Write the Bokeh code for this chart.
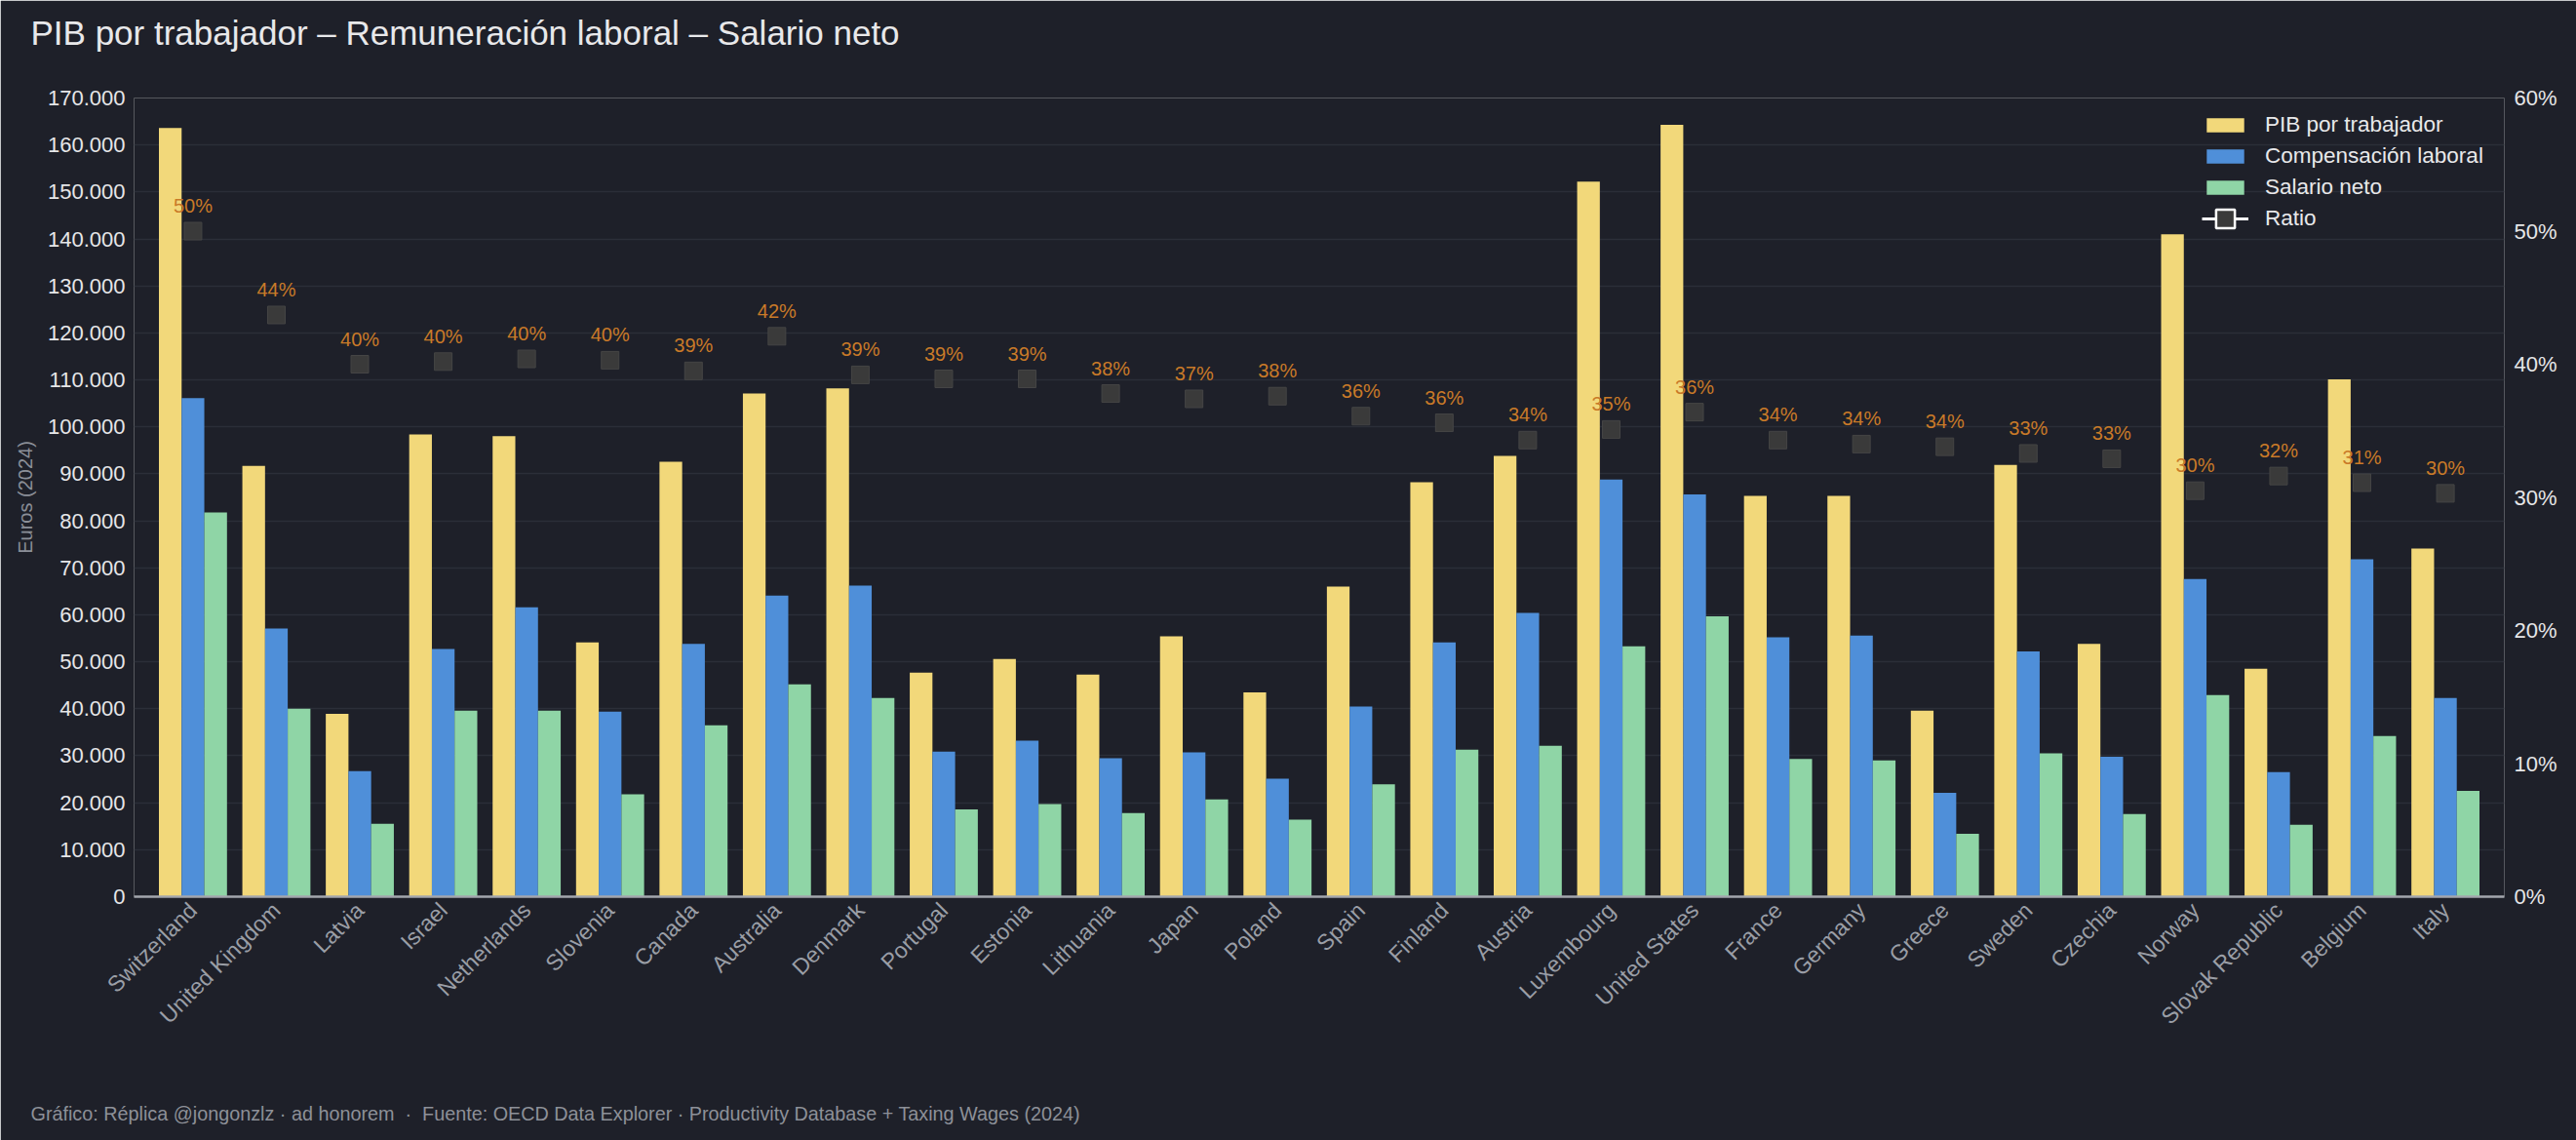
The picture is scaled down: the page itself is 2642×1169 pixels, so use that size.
import math
from bokeh.plotting import figure
from bokeh.models import (FactorRange, Range1d, LinearAxis, FixedTicker, Legend, LegendItem,
                          ColumnDataSource, Title)
from bokeh.transform import dodge
from bokeh.core.properties import value
from bokeh.embed import file_html
from bokeh.resources import INLINE

# ---------------- data ----------------
countries = ["Switzerland", "United Kingdom", "Latvia", "Israel", "Netherlands", "Slovenia",
             "Canada", "Australia", "Denmark", "Portugal", "Estonia", "Lithuania", "Japan",
             "Poland", "Spain", "Finland", "Austria", "Luxembourg", "United States", "France",
             "Germany", "Greece", "Sweden", "Czechia", "Norway", "Slovak Republic", "Belgium",
             "Italy"]
pib_por_trabajador = [163600, 91700, 38900, 98400, 98000, 54100, 92600, 107100, 108200, 47700,
                      50600, 47300, 55400, 43500, 66000, 88200, 93800, 152200, 164300, 85300,
                      85300, 39600, 91900, 53800, 141000, 48500, 110100, 74100]
compensacion_laboral = [106100, 57100, 26700, 52700, 61600, 39400, 53800, 64100, 66200, 30900,
                        33200, 29500, 30700, 25100, 40500, 54100, 60400, 88800, 85600, 55200,
                        55600, 22100, 52200, 29800, 67600, 26500, 71800, 42300]
salario_neto = [81800, 40000, 15500, 39600, 39600, 21800, 36500, 45200, 42300, 18600,
                19700, 17800, 20700, 16400, 23900, 31300, 32100, 53300, 59700, 29300,
                29000, 13400, 30500, 17600, 42900, 15300, 34200, 22500]
ratio = [0.500, 0.437, 0.400, 0.402, 0.404, 0.403, 0.395, 0.421, 0.392, 0.389,
         0.389, 0.378, 0.374, 0.376, 0.361, 0.356, 0.343, 0.351, 0.364, 0.343,
         0.340, 0.338, 0.333, 0.329, 0.305, 0.316, 0.311, 0.303]
ratio_labels = ["50%", "44%", "40%", "40%", "40%", "40%", "39%", "42%", "39%", "39%",
                "39%", "38%", "37%", "38%", "36%", "36%", "34%", "35%", "36%", "34%",
                "34%", "34%", "33%", "33%", "30%", "32%", "31%", "30%"]
y_ticks = [0, 10000, 20000, 30000, 40000, 50000, 60000, 70000, 80000, 90000, 100000,
           110000, 120000, 130000, 140000, 150000, 160000, 170000]
y_tick_labels = ["0", "10.000", "20.000", "30.000", "40.000", "50.000", "60.000", "70.000",
                 "80.000", "90.000", "100.000", "110.000", "120.000", "130.000", "140.000",
                 "150.000", "160.000", "170.000"]
r_ticks = [0.0, 0.1, 0.2, 0.3, 0.4, 0.5, 0.6]
r_tick_labels = ["0%", "10%", "20%", "30%", "40%", "50%", "60%"]

series_names = ["PIB por trabajador", "Compensación laboral", "Salario neto", "Ratio"]
title_text = "PIB por trabajador \u2013 Remuneración laboral \u2013 Salario neto"
footer_text = ("Gráfico: Réplica @jongonzlz · ad honorem \u00a0·\u00a0 Fuente: OECD Data Explorer · "
               "Productivity Database + Taxing Wages (2024)")

# ---------------- style ----------------
FONT = "Liberation Sans"
BG = "#1e2029"
C_PIB = "#f2d87a"
C_COMP = "#4f8fd9"
C_NET = "#8fd5a6"
C_LABEL = "#c97a28"
C_MARK = "#3a3a3a"
BW = 0.272

src = ColumnDataSource(dict(country=countries, pib=pib_por_trabajador,
                            comp=compensacion_laboral, net=salario_neto,
                            ratio=ratio, label=ratio_labels))

p = figure(width=2642, height=1169, output_backend="svg", toolbar_location=None,
           title=None,
           x_range=FactorRange(factors=countries, range_padding=0.206,
                               range_padding_units="absolute"),
           y_range=Range1d(0, 170000),
           min_border_left=137, min_border_right=74, min_border_top=100,
           min_border_bottom=250)
p.extra_y_ranges = {"ratio": Range1d(0, 0.6)}
p.background_fill_color = BG
p.border_fill_color = BG
p.outline_line_color = None

# title (with a spacer between it and the frame)
top_spacer = Title(text=" ", text_font_size="1px", standoff=45, text_color=BG)
main_title = Title(text=title_text, align="left", offset=-106, standoff=0,
                   text_font=FONT, text_font_size="35px", text_font_style="normal",
                   text_color="#e8e8ea")
p.add_layout(top_spacer, "above")
p.add_layout(main_title, "above")

# footer (with a spacer between it and the x axis)
bottom_spacer = Title(text=" ", text_font_size="1px", standoff=58, text_color=BG)
footer = Title(text=footer_text, align="left", offset=-106, standoff=0,
               text_font=FONT, text_font_size="19.8px", text_font_style="normal",
               text_color="#8d9098")
p.add_layout(bottom_spacer, "below")
p.add_layout(footer, "below")

# bars
r_pib = p.vbar(x=dodge("country", -BW, range=p.x_range), top="pib", width=BW, source=src,
               fill_color=C_PIB, line_color=None)
r_comp = p.vbar(x=dodge("country", 0, range=p.x_range), top="comp", width=BW, source=src,
                fill_color=C_COMP, line_color=None)
r_net = p.vbar(x=dodge("country", BW, range=p.x_range), top="net", width=BW, source=src,
               fill_color=C_NET, line_color=None)

# ratio markers and labels
p.scatter(x="country", y="ratio", source=src, y_range_name="ratio", marker="square",
          size=18, fill_color=C_MARK, line_color="#454545", line_width=1)
p.text(x="country", y="ratio", text="label", source=src, y_range_name="ratio",
       text_align="center", text_baseline="bottom", y_offset=-15,
       text_font=value(FONT), text_font_size="20px", text_color=C_LABEL)

# dummy renderers (no data drawn) for the Ratio legend entry
dsrc = ColumnDataSource(dict(x=[countries[0]], y=[float("nan")]))
d_line = p.line(x="x", y="y", source=dsrc, line_color="white", line_width=3)
d_mark = p.scatter(x="x", y="y", source=dsrc, marker="square", size=19,
                   fill_color=C_MARK, line_color="white", line_width=2.5)

leg_style = dict(glyph_width=48, label_standoff=17, padding=0, margin=0, label_height=26,
                 label_text_font=FONT, label_text_font_size="22.5px",
                 label_text_color="#e8e8ea", background_fill_alpha=0, border_line_alpha=0)
legend = Legend(items=[LegendItem(label=series_names[0], renderers=[r_pib]),
                       LegendItem(label=series_names[1], renderers=[r_comp]),
                       LegendItem(label=series_names[2], renderers=[r_net])],
                location=(2121, 714), glyph_height=18, spacing=6, **leg_style)
legend2 = Legend(items=[LegendItem(label=series_names[3], renderers=[d_line, d_mark])],
                 location=(2121, 671), glyph_height=48, spacing=0, **leg_style)
p.add_layout(legend)
p.add_layout(legend2)

# axes
p.xaxis.axis_line_color = "#a3a6ad"
p.xaxis.axis_line_width = 2.5
p.xaxis.major_tick_line_color = None
p.xaxis.major_tick_out = 0
p.xaxis.major_tick_in = 0
p.xaxis.major_label_orientation = math.pi / 4
p.xaxis.major_label_text_color = "#9a9ea6"
p.xaxis.major_label_text_font = FONT
p.xaxis.major_label_text_font_size = "23px"
p.xaxis.major_label_standoff = 10

p.yaxis.ticker = FixedTicker(ticks=y_ticks)
p.yaxis.major_label_overrides = dict(zip(y_ticks, y_tick_labels))
p.yaxis.axis_line_color = None
p.yaxis.major_tick_line_color = None
p.yaxis.minor_tick_line_color = None
p.yaxis.major_tick_out = 0
p.yaxis.major_tick_in = 0
p.yaxis.major_label_standoff = 9
p.yaxis.major_label_text_color = "#e6e6e8"
p.yaxis.major_label_text_font = FONT
p.yaxis.major_label_text_font_size = "22px"
p.yaxis.axis_label = "Euros (2024)"
p.yaxis.axis_label_text_color = "#8b8f98"
p.yaxis.axis_label_text_font = FONT
p.yaxis.axis_label_text_font_size = "20px"
p.yaxis.axis_label_text_font_style = "normal"
p.yaxis.axis_label_standoff = 9

raxis = LinearAxis(y_range_name="ratio", ticker=FixedTicker(ticks=r_ticks),
                   major_label_overrides=dict(zip(r_ticks, r_tick_labels)),
                   axis_line_color=None, major_tick_line_color=None,
                   minor_tick_line_color=None, major_tick_out=0, major_tick_in=0,
                   major_label_standoff=10, major_label_text_color="#e6e6e8",
                   major_label_text_font=FONT, major_label_text_font_size="22px")
p.add_layout(raxis, "right")

p.xgrid.grid_line_color = None
p.ygrid.ticker = FixedTicker(ticks=y_ticks)
p.ygrid.grid_line_color = "#2b2e38"
p.ygrid.grid_line_width = 1.5

open("out.html", "w").write(file_html(p, INLINE))
